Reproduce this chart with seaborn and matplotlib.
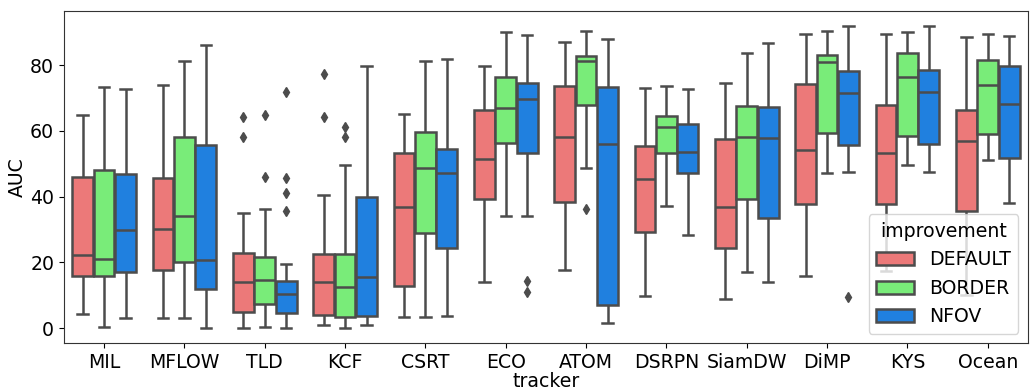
import numpy as np
import pandas as pd
import matplotlib
matplotlib.use("Agg")
import matplotlib.pyplot as plt
import seaborn as sns

trackers = ["MIL", "MFLOW", "TLD", "KCF", "CSRT", "ECO", "ATOM", "DSRPN",
            "SiamDW", "DiMP", "KYS", "Ocean"]
improvements = ["DEFAULT", "BORDER", "NFOV"]

# Box statistics (per tracker)
default_lo  = [4.2, 3.1, 0.1, 0.9, 3.3, 13.9, 17.6, 9.7, 8.7, 15.7, 17.3, 10.2]
default_q1  = [15.9, 17.6, 4.8, 4.1, 12.9, 39.4, 38.4, 29.2, 24.4, 37.8, 37.8, 35.7]
default_med = [22.2, 30.1, 14.1, 14.1, 36.8, 51.4, 58.2, 45.3, 36.7, 54.2, 53.4, 57.0]
default_q3  = [46.0, 45.8, 22.7, 22.6, 53.2, 66.2, 73.7, 55.5, 57.6, 74.4, 68.0, 66.2]
default_hi  = [64.9, 74.0, 35.1, 40.6, 65.2, 79.6, 86.9, 73.0, 74.5, 89.4, 89.5, 88.6]
default_out = [[], [], [58.2, 64.2], [64.3, 77.3], [], [], [], [], [], [], [], []]

border_lo  = [0.4, 3.1, 0.3, 0.1, 3.3, 34.1, 48.8, 37.2, 17.2, 47.3, 49.6, 51.0]
border_q1  = [15.9, 20.0, 7.3, 3.3, 28.8, 56.4, 68.0, 53.4, 39.4, 59.5, 58.4, 58.9]
border_med = [20.9, 34.1, 14.5, 12.5, 48.7, 66.9, 81.3, 61.2, 58.2, 80.9, 76.3, 74.1]
border_q3  = [48.2, 58.2, 21.7, 22.6, 59.7, 76.4, 82.9, 64.4, 67.6, 83.0, 83.6, 81.6]
border_hi  = [73.4, 81.2, 36.3, 49.7, 81.4, 90.0, 90.3, 73.8, 83.6, 90.3, 90.0, 89.4]
border_out = [[], [], [46.0, 64.9], [58.2, 61.2], [], [], [36.3], [], [], [], [], []]

nfov_lo  = [3.1, 0.0, 0.1, 0.9, 3.6, 34.1, 1.6, 28.2, 13.9, 47.5, 47.6, 38.1]
nfov_q1  = [17.2, 12.0, 4.6, 3.8, 24.5, 53.2, 7.0, 47.1, 33.5, 55.6, 56.1, 51.9]
nfov_med = [29.7, 20.8, 10.3, 15.4, 47.2, 69.6, 56.1, 53.5, 57.7, 71.4, 71.7, 68.3]
nfov_q3  = [46.8, 55.7, 14.3, 40.0, 54.6, 74.6, 73.5, 62.2, 67.3, 78.3, 78.4, 79.7]
nfov_hi  = [72.8, 86.2, 19.5, 79.8, 81.8, 89.2, 88.0, 72.6, 86.8, 91.9, 91.9, 88.8]
nfov_out = [[], [], [35.7, 41.2, 45.8, 71.8], [], [], [10.9, 14.3], [], [], [], [9.6], [], []]

palette = ["#FF6666", "#66FF66", "#0080FF"]


def sample_from_stats(lo, q1, med, q3, hi, outliers):
    """Build a sample whose quartiles/whiskers equal the read statistics."""
    low_out = sorted(v for v in outliers if v < q1)
    high_out = sorted(v for v in outliers if v > q3)
    L = len(low_out) + 1
    H = len(high_out) + 1
    m = max(L, H)
    vals = low_out + [lo]
    vals += [q1] * (m - L + 1)
    vals += [med] * m
    vals += [q3] * m
    vals += [q3] * (m - H)
    vals += [hi] + high_out
    return vals


stats = {
    "DEFAULT": (default_lo, default_q1, default_med, default_q3, default_hi, default_out),
    "BORDER": (border_lo, border_q1, border_med, border_q3, border_hi, border_out),
    "NFOV": (nfov_lo, nfov_q1, nfov_med, nfov_q3, nfov_hi, nfov_out),
}

rows = []
for imp in improvements:
    lo, q1, med, q3, hi, out = stats[imp]
    for i, t in enumerate(trackers):
        for v in sample_from_stats(lo[i], q1[i], med[i], q3[i], hi[i], out[i]):
            rows.append({"tracker": t, "improvement": imp, "AUC": v})
df = pd.DataFrame(rows)

plt.rcParams["font.family"] = ["DejaVu Sans"]
fs = 13.6
fig, ax = plt.subplots(figsize=(10.31, 3.90), dpi=100)
fig.subplots_adjust(left=0.062, right=0.997, top=0.972, bottom=0.12)

sns.boxplot(data=df, x="tracker", y="AUC", hue="improvement",
            order=trackers, hue_order=improvements, palette=palette,
            saturation=0.75, width=0.8, gap=0.03, linewidth=1.8,
            linecolor="#4c4c4c", whis=1.5, ax=ax,
            flierprops=dict(marker="d", markersize=5,
                            markerfacecolor="#4c4c4c", markeredgecolor="#4c4c4c"))

ax.set_yticks([0, 20, 40, 60, 80])
ax.tick_params(labelsize=fs)
for sp in ax.spines.values():
    sp.set_color("#333333")
ax.set_xlabel("tracker", fontsize=fs, labelpad=0)
ax.set_ylabel("AUC", fontsize=fs, labelpad=2)
leg = ax.legend(title="improvement", loc="lower right", fontsize=fs,
                title_fontsize=fs)

fig.savefig("out.png", dpi=100)
